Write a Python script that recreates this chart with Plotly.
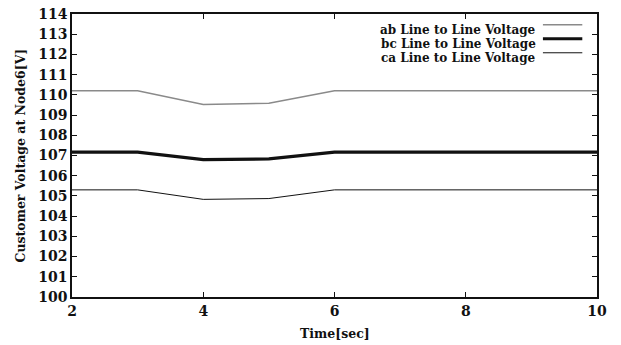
import plotly.graph_objects as go

time = [2, 3, 4, 5, 6, 7, 8, 9, 10]
ab = [110.2, 110.2, 109.52, 109.58, 110.2, 110.2, 110.2, 110.2, 110.2]
bc = [107.17, 107.17, 106.8, 106.83, 107.17, 107.17, 107.17, 107.17, 107.17]
ca = [105.3, 105.3, 104.83, 104.87, 105.3, 105.3, 105.3, 105.3, 105.3]
names = ["ab Line to Line Voltage", "bc Line to Line Voltage", "ca Line to Line Voltage"]
colors = ["#8a8a8a", "#111111", "#111111"]
widths = [1.5, 3.2, 1.0]
x_ticks = [2, 4, 6, 8, 10]
y_ticks = list(range(100, 115))
x_title = "Time[sec]"
y_title = "Customer Voltage at Node6[V]"

FONT = "DejaVu Serif"

fig = go.Figure()
for name, ys, c, w in zip(names, [ab, bc, ca], colors, widths):
    fig.add_trace(go.Scatter(x=time, y=ys, mode="lines", name=name,
                             line=dict(color=c, width=w), showlegend=False))

# custom legend: text right-aligned, sample line on the right
leg_y = [0.945, 0.8955, 0.846]
for name, c, w, ly in zip(names, colors, widths, leg_y):
    fig.add_annotation(xref="paper", yref="paper", x=0.885, y=ly, text="<b>" + name + "</b>",
                       showarrow=False, xanchor="right", yanchor="middle", borderpad=0,
                       font=dict(family=FONT, size=12, color="#111"))
    fig.add_shape(type="line", xref="paper", yref="paper", x0=0.897, x1=0.972, y0=ly + 0.017, y1=ly + 0.017,
                  line=dict(color=c, width=w))

# axis titles
fig.add_annotation(xref="paper", yref="paper", x=0.5, y=0, yanchor="top", yshift=-27,
                   text="<b>" + x_title + "</b>", showarrow=False,
                   font=dict(family=FONT, size=12.5, color="#111"))
fig.add_annotation(xref="paper", yref="paper", x=0, y=0.5, xanchor="center", xshift=-52,
                   text="<b>" + y_title + "</b>", showarrow=False, textangle=-90,
                   font=dict(family=FONT, size=12.5, color="#111"))

axis_common = dict(showgrid=False, zeroline=False, showline=True, linecolor="#111", linewidth=1.5,
                   mirror="ticks", ticks="inside", ticklen=5, tickcolor="#111", tickwidth=1,
                   automargin=False,
                   tickfont=dict(family=FONT, size=14, color="#111"))

fig.update_xaxes(range=[2, 10], tickvals=x_ticks, ticktext=["<b>%d</b>" % v for v in x_ticks], **axis_common)
fig.update_yaxes(range=[100, 114], tickvals=y_ticks, ticktext=["<b>%d</b>" % v for v in y_ticks], **axis_common)

fig.update_layout(width=621, height=345, margin=dict(l=72, r=24, t=14, b=48),
                  plot_bgcolor="white", paper_bgcolor="white")

fig.write_html("out.html")
